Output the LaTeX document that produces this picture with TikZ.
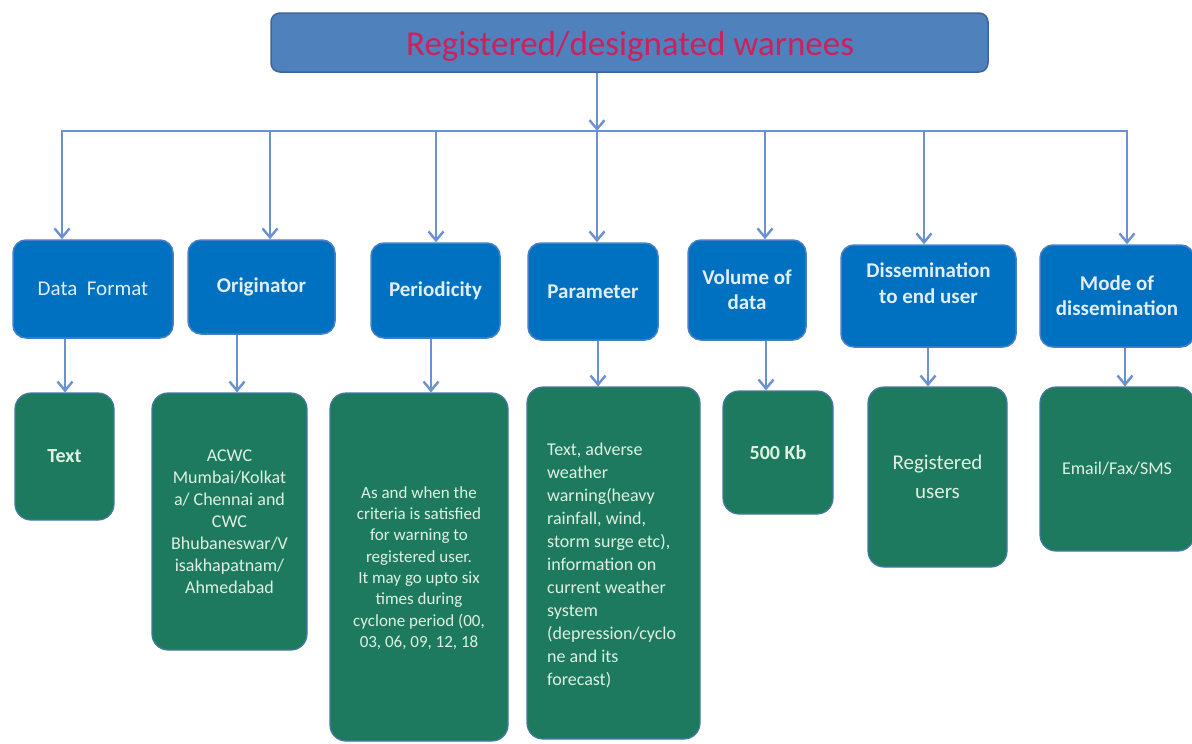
\documentclass[tikz,border=0pt]{standalone}
\usepackage{fontspec}
\setmainfont{Carlito}
\usetikzlibrary{arrows.meta}
\definecolor{topfill}{RGB}{79,129,189}
\definecolor{topdraw}{RGB}{62,102,155}
\definecolor{titlecol}{RGB}{205,32,92}
\definecolor{bfill}{RGB}{0,112,192}
\definecolor{bdraw}{RGB}{72,128,200}
\definecolor{gfill}{RGB}{30,122,94}
\definecolor{gdraw}{RGB}{70,120,165}
\definecolor{arrcol}{RGB}{108,145,210}
\definecolor{btext}{RGB}{225,238,250}
\definecolor{gtext}{RGB}{222,240,228}
\begin{document}
\begin{tikzpicture}[x=1pt,y=-1pt,
 tbox/.style={draw=topdraw, fill=topfill, line width=1.5pt, rounded corners=9pt, inner sep=0pt},
 bbox/.style={draw=bdraw, fill=bfill, line width=1.5pt, rounded corners=13pt, inner sep=0pt, text=btext, align=center, font=\fontsize{21}{25}\selectfont\bfseries},
 gbox/.style={draw=gdraw, fill=gfill, line width=1.2pt, rounded corners=16pt, inner sep=0pt, text=gtext, align=center},
 gtxt/.style={text=gtext, inner sep=0pt},
 arr/.style={draw=arrcol, line width=2.8pt, -{Straight Barb[length=9pt,width=15pt,line width=2.4pt]}},
 busline/.style={draw=arrcol, line width=2.8pt}
]
\useasboundingbox (0,0) rectangle (1192,744);
\clip (0,0) rectangle (1192,744);
\fill[white] (0,0) rectangle (1192,744);

% top box
\node[tbox, minimum width=717pt, minimum height=59pt] (top) at (629.5,42.5) {};
\node[text=titlecol, inner sep=0pt, font=\fontsize{35}{40}\selectfont] (titlet) at (630,46) {Registered/designated warnees};

% blue boxes
\node[bbox, minimum width=160pt, minimum height=98pt, font=\fontsize{21}{25}\selectfont] (df) at (93,289) {Data\ \ Format};
\node[bbox, minimum width=147pt, minimum height=94pt] (org) at (261.5,287) {Originator};
\node[bbox, minimum width=129pt, minimum height=95pt] (per) at (435.5,290.5) {Periodicity};
\node[bbox, minimum width=130pt, minimum height=97pt] (par) at (593,291.5) {Parameter};
\node[bbox, minimum width=118pt, minimum height=100pt] (vol) at (747,290) {Volume of\\data};
\node[bbox, minimum width=175pt, minimum height=102pt] (dis) at (928.5,296) {};
\node[text=btext, align=center, inner sep=0pt, font=\fontsize{21}{26}\selectfont\bfseries] (dist) at (928.5,283) {Dissemination\\to end user};
\node[bbox, minimum width=154pt, minimum height=102pt] (mode) at (1117,296) {Mode of\\dissemination};

% green boxes
\node[gbox, minimum width=99pt, minimum height=127pt, font=\fontsize{20}{24}\selectfont\bfseries] (txt) at (64.5,456.5) {Text};
\node[gbox, minimum width=155pt, minimum height=257pt, font=\fontsize{18}{22}\selectfont] (acwc) at (229.5,521.5) {ACWC\\Mumbai/Kolkat\\a/ Chennai and\\CWC\\Bhubaneswar/V\\isakhapatnam/\\Ahmedabad};
\node[gbox, minimum width=178pt, minimum height=348pt] (pert) at (419,567) {};
\node[gtxt, align=center, font=\fontsize{17}{21.3}\selectfont] (pertt) at (419,568) {As and when the\\criteria is satisfied\\for warning to\\registered user.\\It may go upto six\\times during\\cyclone period (00,\\03, 06, 09, 12, 18};
\node[gbox, minimum width=173pt, minimum height=352pt] (part) at (613.5,563) {};
\node[gtxt, align=left, anchor=north west, font=\fontsize{18}{23}\selectfont] (partt) at (547,443) {Text, adverse\\weather\\warning(heavy\\rainfall, wind,\\storm surge etc),\\information on\\current weather\\system\\(depression/cyclo\\ne and its\\forecast)};
\node[gbox, minimum width=110pt, minimum height=123pt, font=\fontsize{20}{24}\selectfont\bfseries] (kb) at (778,452.5) {500 Kb};
\node[gbox, minimum width=139pt, minimum height=180pt, font=\fontsize{21}{29}\selectfont] (reg) at (937.5,477) {Registered\\users};
\node[gbox, minimum width=154pt, minimum height=164pt, font=\fontsize{18}{22}\selectfont] (email) at (1117,469) {Email/Fax/SMS};

% bus and arrows
\coordinate (bus1) at (62,131);
\coordinate (bus2) at (270,131);
\coordinate (bus3) at (436,131);
\coordinate (bus4) at (597,131);
\coordinate (bus5) at (765,131);
\coordinate (bus6) at (924,131);
\coordinate (bus7) at (1127,131);
\draw[busline, line join=miter] (bus1 |- df.north) ++(0,-10) -- (bus1) -- (bus7) -- ++(0,10);
\draw[arr] (top.south -| bus4) -- (bus4);
\draw[arr] (bus1) -- (bus1 |- df.north);
\draw[arr] (bus2) -- (bus2 |- org.north);
\draw[arr] (bus3) -- (bus3 |- per.north);
\draw[arr] ([yshift=4pt]bus4) -- (bus4 |- par.north);
\draw[arr] (bus5) -- (bus5 |- vol.north);
\draw[arr] (bus6) -- (bus6 |- dis.north);
\draw[arr] (bus7) -- (bus7 |- mode.north);

\coordinate (l1) at (65,0);
\coordinate (l2) at (237,0);
\coordinate (l3) at (431,0);
\coordinate (l4) at (598,0);
\coordinate (l5) at (766,0);
\coordinate (l6) at (928,0);
\coordinate (l7) at (1125,0);
\draw[arr] (df.south -| l1) -- (txt.north -| l1);
\draw[arr] (org.south -| l2) -- (acwc.north -| l2);
\draw[arr] (per.south -| l3) -- (pert.north -| l3);
\draw[arr] (par.south -| l4) -- (part.north -| l4);
\draw[arr] (vol.south -| l5) -- (kb.north -| l5);
\draw[arr] (dis.south -| l6) -- (reg.north -| l6);
\draw[arr] (mode.south -| l7) -- (email.north -| l7);
\end{tikzpicture}
\end{document}
